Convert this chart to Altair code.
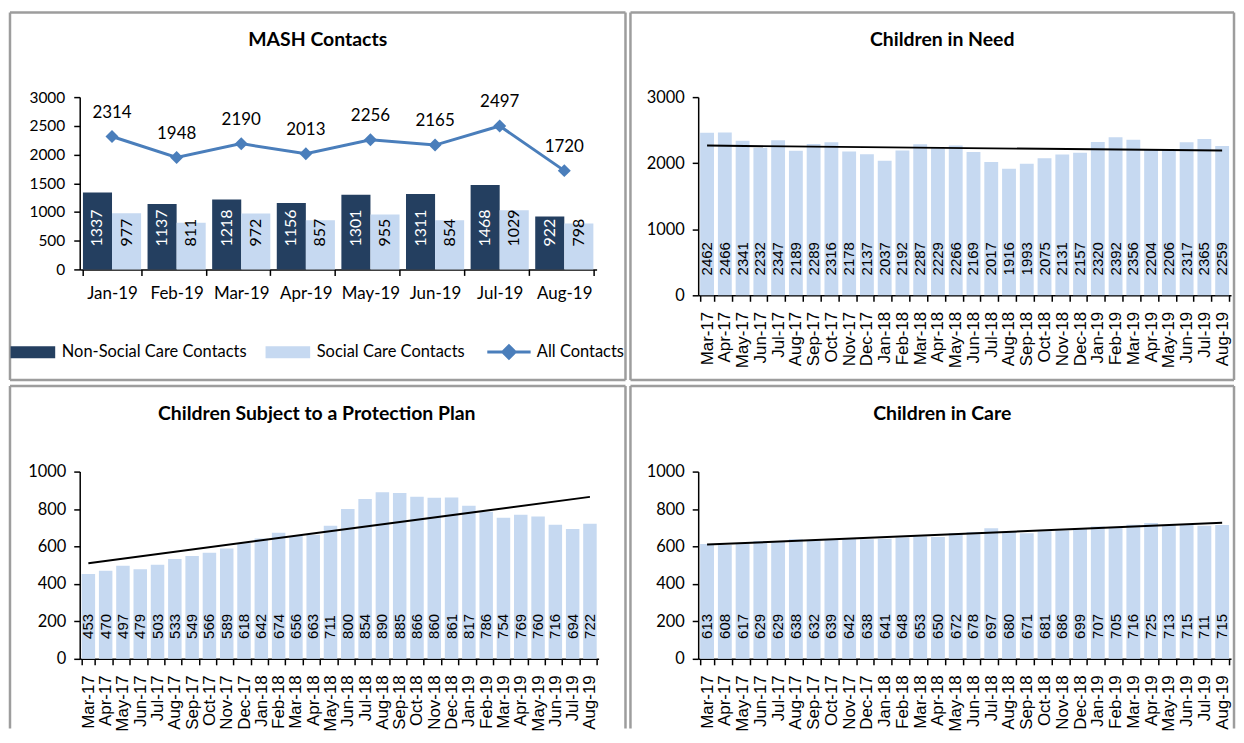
import json
import altair as alt
import pandas as pd

FONT = "Lato"
NUM_FONT = "Liberation Sans"

# ---------------- data ----------------
mash_months = ["Jan-19", "Feb-19", "Mar-19", "Apr-19", "May-19", "Jun-19", "Jul-19", "Aug-19"]
non_social = [1337, 1137, 1218, 1156, 1301, 1311, 1468, 922]
social = [977, 811, 972, 857, 955, 854, 1029, 798]
all_contacts = [2314, 1948, 2190, 2013, 2256, 2165, 2497, 1720]

months = ["Mar-17", "Apr-17", "May-17", "Jun-17", "Jul-17", "Aug-17", "Sep-17", "Oct-17",
          "Nov-17", "Dec-17", "Jan-18", "Feb-18", "Mar-18", "Apr-18", "May-18", "Jun-18",
          "Jul-18", "Aug-18", "Sep-18", "Oct-18", "Nov-18", "Dec-18", "Jan-19", "Feb-19",
          "Mar-19", "Apr-19", "May-19", "Jun-19", "Jul-19", "Aug-19"]
cin = [2462, 2466, 2341, 2232, 2347, 2189, 2289, 2316, 2178, 2137, 2037, 2192, 2287, 2229, 2266,
       2169, 2017, 1916, 1993, 2075, 2131, 2157, 2320, 2392, 2356, 2204, 2206, 2317, 2365, 2259]
cp = [453, 470, 497, 479, 503, 533, 549, 566, 589, 618, 642, 674, 656, 663, 711,
      800, 854, 890, 885, 866, 860, 861, 817, 786, 754, 769, 760, 716, 694, 722]
cic = [613, 608, 617, 629, 629, 638, 632, 639, 642, 638, 641, 648, 653, 650, 672,
       678, 697, 680, 671, 681, 686, 699, 707, 705, 716, 725, 713, 715, 711, 715]

titles = ["MASH Contacts", "Children in Need", "Children Subject to a Protection Plan", "Children in Care"]

NS = "Non-Social Care Contacts"
SC = "Social Care Contacts"
AC = "All Contacts"

DARK = "#243f60"
LIGHT = "#c6d9f1"
BLUE = "#4a7ebb"
BORDER = "#9d9d9d"

RECT = "M-1.75,-0.47L1.75,-0.47L1.75,0.47L-1.75,0.47Z"
LINEDIA = "M-1.7,-0.12L1.7,-0.12L1.7,0.12L-1.7,0.12Z M0,-0.65L0.65,0L0,0.65L-0.65,0Z"

ONE = pd.DataFrame({"k": [0]})


def frame(x0, x1, y0, y1, bottom=True):
    base = alt.Chart(ONE).mark_rule(color=BORDER, strokeWidth=2.5)
    parts = [
        base.encode(x=alt.value(x0), x2=alt.value(x1), y=alt.value(y0), y2=alt.value(y0)),
        base.encode(x=alt.value(x0), x2=alt.value(x0), y=alt.value(y0), y2=alt.value(y1)),
        base.encode(x=alt.value(x1), x2=alt.value(x1), y=alt.value(y0), y2=alt.value(y1)),
    ]
    if bottom:
        parts.append(base.encode(x=alt.value(x0), x2=alt.value(x1), y=alt.value(y1), y2=alt.value(y1)))
    return parts


def heading(text, cx, cy):
    return alt.Chart(ONE).mark_text(font=FONT, fontSize=19.5, fontWeight="bold", color="black",
                                    align="center", baseline="middle").encode(
        x=alt.value(cx), y=alt.value(cy), text=alt.value(text))


# ---------------- MASH contacts ----------------
rows = []
for m, a, b in zip(mash_months, non_social, social):
    rows.append({"month": m, "series": NS, "value": a})
    rows.append({"month": m, "series": SC, "value": b})
bars_df = pd.DataFrame(rows)
line_df = pd.DataFrame({"month": mash_months, "series": [AC] * len(mash_months), "value": all_contacts})

xm_scale = alt.Scale(domain=mash_months, paddingInner=0.1, paddingOuter=0.05)
xm_axis = alt.Axis(title=None, labelAngle=0, labelFont=FONT, labelFontSize=17, labelPadding=10,
                   tickBand="extent", tickSize=6)
ym_scale = alt.Scale(domain=[0, 3000], nice=False)
ym_axis = alt.Axis(title=None, values=[0, 500, 1000, 1500, 2000, 2500, 3000], format="d",
                   labelFont=FONT, labelFontSize=15.5, labelOverlap=False, labelPadding=9,
                   grid=False, tickSize=6)
xm = alt.X("month:N", sort=mash_months, scale=xm_scale, axis=xm_axis)
ym = alt.Y("value:Q", scale=ym_scale, axis=ym_axis)
ym_zero = alt.YDatum(0, type="quantitative", scale=ym_scale, axis=ym_axis)
xoff = alt.XOffset("series:N", sort=[NS, SC], scale=alt.Scale(domain=[NS, SC], paddingInner=0, paddingOuter=0))

bar_legend = alt.Legend(
    title=None, orient="none", legendX=-60, legendY=243, direction="horizontal",
    labelFont=FONT, labelFontSize=16.5, labelColor="black", labelLimit=400, symbolSize=655,
    symbolType=RECT, labelOffset=16, columnPadding=18, symbolStrokeWidth=0, symbolOpacity=1)
color = alt.Color("series:N", scale=alt.Scale(domain=[NS, SC], range=[DARK, LIGHT]), legend=bar_legend)

line_legend = alt.Legend(
    title=None, orient="none", legendX=418, legendY=243, direction="horizontal",
    labelFont=FONT, labelFontSize=16.5, labelColor="black", labelLimit=400, symbolSize=655,
    labelOffset=15, symbolStrokeWidth=0, symbolOpacity=1)

mash_bars = alt.Chart(bars_df).mark_bar().encode(x=xm, xOffset=xoff, y=ym, color=color)
mash_bar_labels = alt.Chart(bars_df).mark_text(
    angle=270, align="left", baseline="middle", dx=23, font=FONT, fontSize=16
).encode(
    x=xm, xOffset=xoff, y=ym_zero, text="value:Q",
    color=alt.condition(f"datum.series === '{NS}'", alt.value("white"), alt.value("black")),
)
mash_line = alt.Chart(line_df).mark_line(color=BLUE, strokeWidth=3).encode(x=xm, y=ym)
mash_points = alt.Chart(line_df).mark_point(shape="diamond", filled=True, size=170, opacity=1, color=BLUE).encode(
    x=xm, y=ym)
# invisible layer that only supplies the "All Contacts" legend entry
mash_line_key = alt.Chart(line_df).mark_point(filled=True, opacity=0, color=BLUE).encode(
    x=xm, y=ym,
    shape=alt.Shape("series:N", scale=alt.Scale(domain=[AC], range=[LINEDIA]), legend=line_legend))
mash_line_labels = alt.Chart(line_df).mark_text(dy=-24, font=FONT, fontSize=17, color="black").encode(
    x=xm, y=ym, text="value:Q")

MW, MH = 519, 173
mash = alt.layer(
    *frame(-70, 548, -85, 284),
    heading(titles[0], 239, -57),
    mash_bars, mash_bar_labels, mash_line, mash_points, mash_line_key, mash_line_labels,
).properties(width=MW, height=MH)


# ---------------- monthly panels ----------------
def monthly(values, title, ymax, ystep, width, height, fr, bottom, tx, ty):
    df = pd.DataFrame({"month": months, "idx": list(range(len(months))), "value": values})
    x = alt.X("month:N", sort=months,
              scale=alt.Scale(domain=months, paddingInner=0.22, paddingOuter=0.11),
              axis=alt.Axis(title=None, labelAngle=270, labelFont=NUM_FONT, labelFontSize=17,
                            labelPadding=10, tickBand="extent", tickSize=6))
    y_scale = alt.Scale(domain=[0, ymax], nice=False)
    y_axis = alt.Axis(title=None, values=list(range(0, ymax + 1, ystep)), format="d",
                      labelFont=FONT, labelFontSize=16.5, labelOverlap=False, labelPadding=8,
                      grid=False, tickSize=6)
    y = alt.Y("value:Q", scale=y_scale, axis=y_axis)
    y_zero = alt.YDatum(0, type="quantitative", scale=y_scale, axis=y_axis)
    bars = alt.Chart(df).mark_bar(color=LIGHT).encode(x=x, y=y)
    labels = alt.Chart(df).mark_text(
        angle=270, align="left", baseline="middle", dx=20, font=NUM_FONT, fontSize=15, color="black"
    ).encode(x=x, y=y_zero, text="value:Q")
    trend = alt.Chart(df).transform_regression("idx", "value").transform_calculate(
        month=f"{json.dumps(months)}[round(datum.idx)]"
    ).mark_line(color="black", strokeWidth=2).encode(x=x, y=y)
    return alt.layer(*frame(*fr, bottom=bottom), heading(title, tx, ty),
                     bars, labels, trend).properties(width=width, height=height)


cin_chart = monthly(cin, titles[1], 3000, 1000, 535, 199, (-68, 538, -85, 284), True, 245, -57)
cp_chart = monthly(cp, titles[2], 1000, 200, 521, 188, (-70, 548, -86, 258), False, 238, -58)
cic_chart = monthly(cic, titles[3], 1000, 200, 535, 188, (-68, 538, -86, 258), False, 245, -58)

chart = alt.vconcat(
    alt.hconcat(mash, cin_chart, spacing=1),
    alt.hconcat(cp_chart, cic_chart, spacing=1),
    spacing=2,
).properties(
    padding={"left": 0, "top": 1, "right": 0, "bottom": 0}
).configure_view(stroke=None).configure_axis(
    domainColor="black", domainWidth=1.5, tickColor="black", tickWidth=1.5, labelColor="black"
)

chart.save("out.html", embed_options={"renderer": "svg", "actions": False})
